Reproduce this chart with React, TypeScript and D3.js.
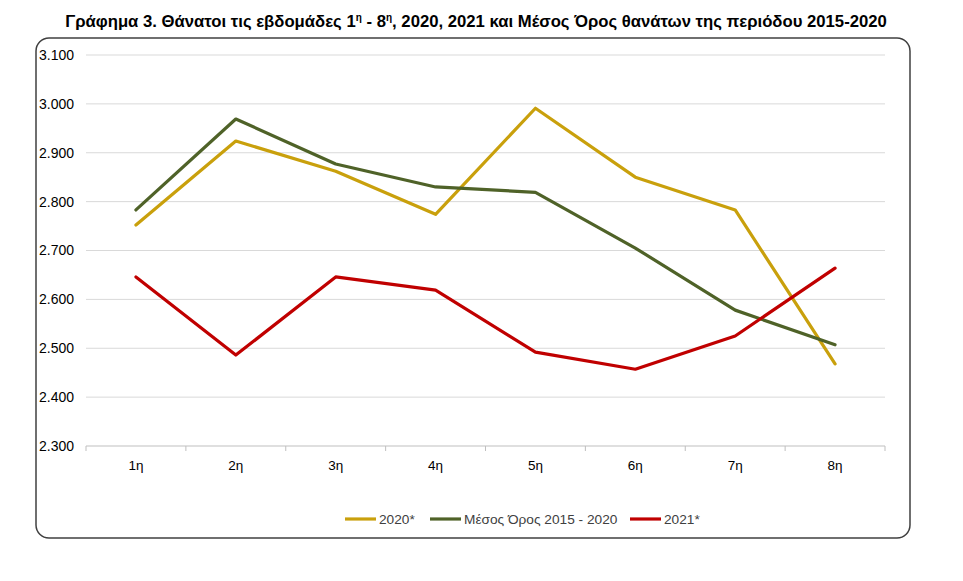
import React from 'react';
import * as d3 from 'd3';

const weeks = ['1η', '2η', '3η', '4η', '5η', '6η', '7η', '8η'];
const deaths2020 = [2752, 2924, 2862, 2774, 2991, 2850, 2783, 2468];
const avg2015_2020 = [2783, 2969, 2877, 2830, 2819, 2705, 2578, 2507];
const deaths2021 = [2646, 2486, 2646, 2619, 2492, 2457, 2525, 2664];
const yTicks = [2300, 2400, 2500, 2600, 2700, 2800, 2900, 3000, 3100];

const series = [
  { name: '2020*', values: deaths2020, color: '#C9A00C' },
  { name: 'Μέσος Όρος 2015 - 2020', values: avg2015_2020, color: '#4F6228' },
  { name: '2021*', values: deaths2021, color: '#C00000' },
];

const W = 963;
const H = 581;
const font = "'Liberation Sans Narrow', 'Arial Narrow', 'Liberation Sans', sans-serif";

export default function App() {
  const x = d3.scaleBand().domain(weeks).range([86, 885]);
  const y = d3.scaleLinear().domain([2300, 3100]).range([446, 55]);
  const fmt = (v: number) => d3.format(',.3f')(v / 1000);

  const line = d3.line<number>()
    .x((_, i) => (x(weeks[i]) ?? 0) + x.bandwidth() / 2)
    .y(d => y(d));

  // legend positions (left edge of each line sample)
  const legendX = [345, 430, 630];

  return (
    <svg width={W} height={H} style={{ position: 'absolute', left: 0, top: 0 }}>
      <rect width={W} height={H} fill="#fff" />
      <text x={476} y={27} textAnchor="middle" fontFamily={font} fontWeight="bold" fontSize={16.7} fill="#000">
        Γράφημα 3. Θάνατοι τις εβδομάδες 1<tspan fontSize={10} dy={-6}>η</tspan><tspan dy={6}> - 8</tspan><tspan fontSize={10} dy={-6}>η</tspan><tspan dy={6}>, 2020, 2021 και Μέσος Όρος θανάτων της περιόδου 2015-2020</tspan>
      </text>
      <rect x={36} y={38} width={874} height={500} rx={13} fill="none" stroke="#404040" strokeWidth={1.5} />

      {yTicks.map(t => (
        <g key={t}>
          <line x1={86} x2={885} y1={y(t)} y2={y(t)} stroke={t === 2300 ? '#bfbfbf' : '#d9d9d9'} strokeWidth={1} />
          <text x={39} y={y(t)} dy="0.35em" fontFamily={font} fontSize={14} fill="#000">{fmt(t)}</text>
        </g>
      ))}
      {d3.range(weeks.length + 1).map(i => {
        const tx = 86 + i * x.step();
        return <line key={i} x1={tx} x2={tx} y1={446} y2={451} stroke="#bfbfbf" />;
      })}
      {weeks.map(w => (
        <text key={w} x={(x(w) ?? 0) + x.bandwidth() / 2} y={470} textAnchor="middle" fontFamily={font} fontSize={13.5} fill="#000">{w}</text>
      ))}

      {series.map(s => (
        <path key={s.name} d={line(s.values) ?? ''} fill="none" stroke={s.color} strokeWidth={3.2} strokeLinejoin="round" strokeLinecap="round" />
      ))}

      {series.map((s, i) => (
        <g key={s.name}>
          <line x1={legendX[i]} x2={legendX[i] + 31} y1={519} y2={519} stroke={s.color} strokeWidth={3.2} />
          <text x={legendX[i] + 34} y={519} dy="0.35em" fontFamily={font} fontSize={13.7} fill="#404040">{s.name}</text>
        </g>
      ))}
    </svg>
  );
}
